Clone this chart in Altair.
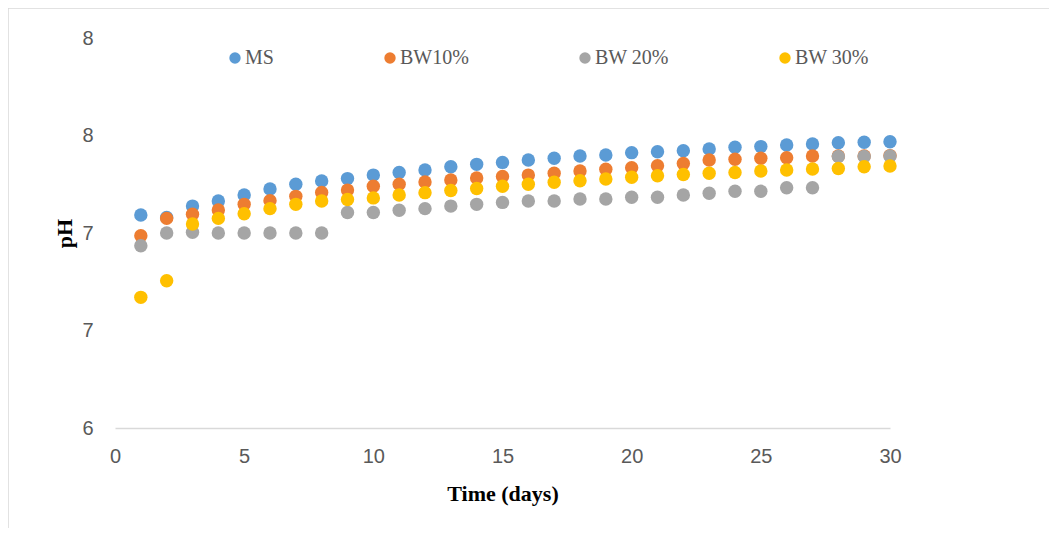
import altair as alt
import pandas as pd

days = list(range(1, 31))
series_names = ["MS", "BW10%", "BW 20%", "BW 30%"]
series_colors = ["#5B9BD5", "#ED7D31", "#A5A5A5", "#FFC000"]

ms = [7.092, 7.08, 7.138, 7.164, 7.195, 7.226, 7.25, 7.267, 7.279, 7.297,
      7.31, 7.323, 7.34, 7.352, 7.362, 7.374, 7.383, 7.395, 7.4, 7.412,
      7.417, 7.422, 7.431, 7.44, 7.443, 7.451, 7.457, 7.463, 7.465, 7.468]
bw10 = [6.986, 7.075, 7.096, 7.118, 7.147, 7.166, 7.188, 7.208, 7.22, 7.24,
        7.25, 7.262, 7.272, 7.282, 7.29, 7.297, 7.306, 7.318, 7.327, 7.335,
        7.345, 7.357, 7.374, 7.378, 7.383, 7.386, 7.395, 7.395, 7.395, 7.397]
bw20 = [6.935, 7.0, 7.004, 7.0, 7.0, 7.0, 7.0, 7.0, 7.105, 7.105,
        7.117, 7.125, 7.138, 7.147, 7.157, 7.164, 7.164, 7.174, 7.174, 7.183,
        7.183, 7.195, 7.204, 7.214, 7.214, 7.232, 7.232, 7.392, 7.392, 7.395]
bw30 = [6.67, 6.755, 7.046, 7.075, 7.099, 7.125, 7.147, 7.164, 7.172, 7.18,
        7.195, 7.207, 7.218, 7.228, 7.24, 7.25, 7.26, 7.268, 7.277, 7.286,
        7.294, 7.3, 7.306, 7.31, 7.318, 7.323, 7.328, 7.331, 7.34, 7.344]

x_ticks = [0, 5, 10, 15, 20, 25, 30]
y_ticks = [6, 6.5, 7, 7.5, 8]
y_tick_labels = ["6", "7", "7", "8", "8"]

rows = []
for name, vals in zip(series_names, [ms, bw10, bw20, bw30]):
    for d, v in zip(days, vals):
        rows.append({"day": d, "pH": v, "series": name})
df = pd.DataFrame(rows)

W, H = 775, 390

parts = []
for t, l in zip(y_ticks, y_tick_labels):
    parts.append(f"datum.value == {t} ? '{l}' : ")
label_expr = "".join(parts) + "''"

points = alt.Chart(df).mark_circle(size=180, opacity=1).encode(
    x=alt.X("day:Q", scale=alt.Scale(domain=[0, 30], nice=False),
            axis=alt.Axis(values=x_ticks, title="Time (days)", grid=False,
                          domain=True, domainColor="#D9D9D9", domainWidth=1.5,
                          ticks=False, labelPadding=18, labelFontSize=20,
                          labelFlush=False,
                          labelFont="Liberation Sans", labelColor="#595959",
                          titleFont="Liberation Serif", titleFontSize=22,
                          titleFontWeight="bold", titleColor="#000000",
                          titlePadding=17)),
    y=alt.Y("pH:Q", scale=alt.Scale(domain=[6, 8], nice=False),
            axis=alt.Axis(values=y_ticks, labelExpr=label_expr, title="pH",
                          grid=False, domain=False, ticks=False,
                          labelPadding=22, labelFontSize=20, labelFlush=False,
                          labelFont="Liberation Sans", labelColor="#595959",
                          titleFont="Liberation Serif", titleFontSize=22,
                          titleFontWeight="bold", titleColor="#000000",
                          titlePadding=5)),
    color=alt.Color("series:N",
                    scale=alt.Scale(domain=series_names, range=series_colors),
                    sort=series_names,
                    legend=alt.Legend(title=None, orient="none", direction="horizontal",
                                      legendX=110, legendY=10, columnPadding=106,
                                      symbolType="circle", symbolSize=130,
                                      symbolStrokeWidth=0, labelOffset=0,
                                      labelFont="Liberation Serif", labelFontSize=20,
                                      labelColor="#595959")),
)

border = alt.Chart(pd.DataFrame({"a": [0]})).mark_rect(
    fill=None, stroke="#D9D9D9", strokeWidth=1.5
).encode(
    x=alt.value(-107), x2=alt.value(W + 400),
    y=alt.value(-30), y2=alt.value(H + 300),
)

chart = alt.layer(border, points).properties(
    width=W, height=H,
    background="white",
    autosize=alt.AutoSizeParams(type="none"),
    padding={"left": 107, "top": 30, "right": 159, "bottom": 100},
).configure_view(strokeWidth=0, stroke="transparent")

chart.save("out.html", embed_options={"renderer": "svg", "actions": False})
